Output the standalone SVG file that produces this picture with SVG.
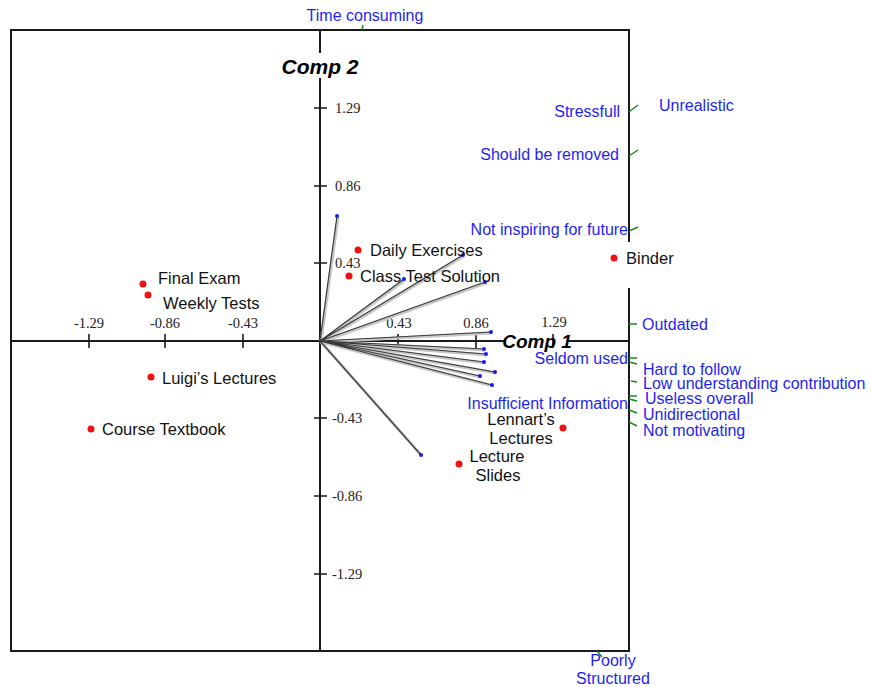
<svg xmlns="http://www.w3.org/2000/svg" width="871" height="687" viewBox="0 0 871 687">
<style>
.frame{stroke:#1a1a1a;stroke-width:2;fill:none}
.tick{stroke:#1a1a1a;stroke-width:1.6}
.num{font-family:"Liberation Serif",serif;font-size:14.5px;fill:#222}
.lbl{font-family:"Liberation Sans",Arial,sans-serif;font-size:16.5px;fill:#111}
.att{font-family:"Liberation Sans",Arial,sans-serif;font-size:16px;fill:#1f1ff0}
.comp{font-family:"Liberation Sans",Arial,sans-serif;font-size:21px;font-weight:bold;font-style:italic;fill:#000}
.gt{stroke:#1a8a1a;stroke-width:1.5}
.pt{fill:#ee1111}
.vsh{stroke:#c8c8c8;stroke-width:3;fill:none}
.vec{stroke:#3a3a3a;stroke-width:1.2;fill:none}
.tip{fill:#1a1aee}
</style>
<rect width="871" height="687" fill="#fff"/>
<g id="frame">
<path class="frame" d="M629,242 V30 H11 V651 H629 V288"/>
<path class="frame" d="M320,30 V53 M320,78 V651"/>
<path class="frame" d="M11,341 H506 M567,341 H629"/>
</g>
<g id="ticks">
<path class="tick" d="M89,334 V348 M165,334 V348 M243,334 V348 M398,334 V348 M476,334 V348 M553,334 V348"/>
<path class="tick" d="M314,108 H327 M314,186 H327 M314,263 H327 M314,418 H327 M314,496 H327 M314,574 H327"/>
<text class="num" x="89" y="328" text-anchor="middle">-1.29</text>
<text class="num" x="165" y="328" text-anchor="middle">-0.86</text>
<text class="num" x="243" y="328" text-anchor="middle">-0.43</text>
<text class="num" x="399" y="328" text-anchor="middle">0.43</text>
<text class="num" x="476" y="328" text-anchor="middle">0.86</text>
<text class="num" x="554" y="327" text-anchor="middle">1.29</text>
<text class="num" x="335" y="113">1.29</text>
<text class="num" x="335" y="191">0.86</text>
<text class="num" x="335" y="268">0.43</text>
<text class="num" x="332" y="423">-0.43</text>
<text class="num" x="332" y="501">-0.86</text>
<text class="num" x="332" y="579">-1.29</text>
</g>
<g id="axis-titles">
<text class="comp" x="320" y="74" text-anchor="middle">Comp 2</text>
<text class="comp" x="537" y="348" text-anchor="middle" style="font-size:19px">Comp 1</text>
</g>
<g id="connectors">
<path class="vsh" d="M320,341 L337,216 M320,341 L404,279 M320,341 L463,255 M320,341 L485,282 M320,341 L491,332 M320,341 L484,349 M320,341 L486,354 M320,341 L484,362 M320,341 L495,372 M320,341 L489,371 M320,341 L480,376 M320,341 L492,385 M320,341 L421,455" transform="translate(1,1)"/>
<path class="vec" d="M320,341 L337,216 M320,341 L404,279 M320,341 L463,255 M320,341 L485,282 M320,341 L491,332 M320,341 L484,349 M320,341 L486,354 M320,341 L484,362 M320,341 L495,372 M320,341 L489,371 M320,341 L480,376 M320,341 L492,385 M320,341 L421,455"/>
<g class="tip">
<circle cx="337" cy="216" r="2"/><circle cx="404" cy="279" r="2"/><circle cx="463" cy="255" r="2"/><circle cx="485" cy="282" r="2"/>
<circle cx="491" cy="332" r="2"/><circle cx="484" cy="349" r="2"/><circle cx="486" cy="354" r="2"/><circle cx="484" cy="362" r="2"/>
<circle cx="495" cy="372" r="2"/><circle cx="480" cy="376" r="2"/><circle cx="492" cy="385" r="2"/><circle cx="421" cy="455" r="2"/>
</g>
<path class="gt" d="M362,30 L363,25 M629,112 L638,105 M629,156 L638,150 M629,231 L638,227 M629,324 L637,324 M629,358 L637,358 M629,362 L637,364 M631,381 L637,382 M629,396 L637,396 M629,399 L637,401 M629,410 L637,413 M629,422 L637,426 M597,651 L602,657"/>
</g>
<g id="final-exam"><circle class="pt" cx="143" cy="284" r="3.5"/><text class="lbl" x="158" y="284">Final Exam</text></g>
<g id="weekly-tests"><circle class="pt" cx="148" cy="295" r="3.5"/><text class="lbl" x="163" y="309">Weekly Tests</text></g>
<g id="luigis-lectures"><circle class="pt" cx="151" cy="377" r="3.5"/><text class="lbl" x="162" y="384">Luigi’s Lectures</text></g>
<g id="course-textbook"><circle class="pt" cx="91" cy="429" r="3.5"/><text class="lbl" x="102" y="435">Course Textbook</text></g>
<g id="daily-exercises"><circle class="pt" cx="358" cy="250" r="3.5"/><text class="lbl" x="370" y="256">Daily Exercises</text></g>
<g id="class-test-solution"><circle class="pt" cx="349" cy="276" r="3.5"/><text class="lbl" x="360" y="282">Class Test Solution</text></g>
<g id="binder"><circle class="pt" cx="614" cy="258" r="3.5"/><text class="lbl" x="626" y="264">Binder</text></g>
<g id="lennarts-lectures"><circle class="pt" cx="563" cy="428" r="3.5"/><text class="lbl" x="521" y="425" text-anchor="middle">Lennart’s</text><text class="lbl" x="521" y="444" text-anchor="middle">Lectures</text></g>
<g id="lecture-slides"><circle class="pt" cx="459" cy="464" r="3.5"/><text class="lbl" x="497" y="462" text-anchor="middle">Lecture</text><text class="lbl" x="498" y="481" text-anchor="middle">Slides</text></g>
<g id="attributes">
<text class="att" x="365" y="21" text-anchor="middle">Time consuming</text>
<text class="att" x="620" y="117" text-anchor="end">Stressfull</text>
<text class="att" x="659" y="111">Unrealistic</text>
<text class="att" x="619" y="160" text-anchor="end">Should be removed</text>
<text class="att" x="628" y="235" text-anchor="end">Not inspiring for future</text>
<text class="att" x="642" y="330">Outdated</text>
<text class="att" x="628" y="364" text-anchor="end">Seldom used</text>
<text class="att" x="643" y="375">Hard to follow</text>
<text class="att" x="643" y="389">Low understanding contribution</text>
<text class="att" x="645" y="404">Useless overall</text>
<text class="att" x="628" y="409" text-anchor="end">Insufficient Information</text>
<text class="att" x="643" y="420">Unidirectional</text>
<text class="att" x="643" y="436">Not motivating</text>
<text class="att" x="613" y="666" text-anchor="middle">Poorly</text>
<text class="att" x="613" y="684" text-anchor="middle">Structured</text>
</g>
</svg>
